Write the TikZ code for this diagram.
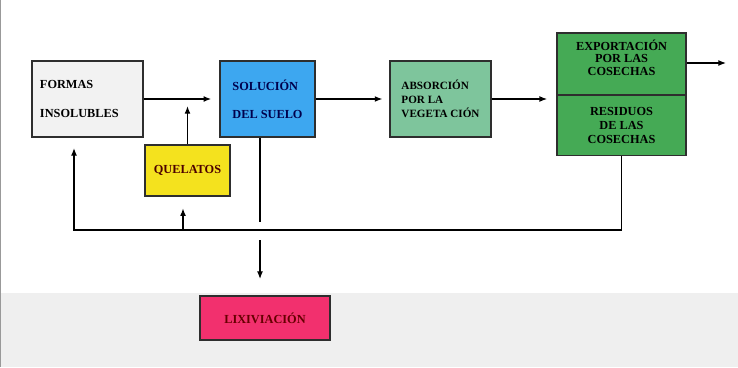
\documentclass[tikz,border=0pt]{standalone}
\usepackage{fontspec}
\setmainfont{Liberation Serif}
\usepackage{xcolor}
\usepackage{tikz}
\usetikzlibrary{arrows,arrows.meta,positioning,calc}

\definecolor{gris}{HTML}{F2F2F2}
\definecolor{fondo}{HTML}{EFEFEF}
\definecolor{amarillo}{HTML}{F4E21E}
\definecolor{azul}{HTML}{3DA7F0}
\definecolor{verdeclaro}{HTML}{7EC59C}
\definecolor{verde}{HTML}{45AA55}
\definecolor{rosa}{HTML}{F2306E}
\definecolor{borde}{HTML}{2E2E2E}

\begin{document}
\begin{tikzpicture}[x=0.03cm,y=-0.03cm,
  letra/.style={font=\fontsize{10.5}{12}\selectfont\bfseries},
  caja/.style={draw=borde, line width=1pt, letra, align=left, inner sep=2pt},
  flecha/.style={-{Latex[length=6.5pt,width=5pt]}, line width=1pt},
  linea/.style={line width=1pt}]

\useasboundingbox (0,0) rectangle (738,367);
\fill[fondo] (0,293) rectangle (738,367);
\draw[black!40, line width=1pt] (0.5,0) -- (0.5,367);

\node[caja, fill=gris, text width=2.85cm, minimum width=3.33cm, minimum height=2.28cm] (formas) at (87.5,99) {FORMAS\\[12pt]INSOLUBLES};
\node[caja, fill=amarillo, minimum width=2.55cm, minimum height=1.53cm, text=black!70!red] (quelatos) at (187.5,170.5) {QUELATOS};
\node[caja, fill=azul, minimum width=2.85cm, minimum height=2.28cm, text=blue!30!black] (solucion) at (267.5,99) {SOLUCIÓN\\[12pt]DEL SUELO};
\node[caja, fill=verdeclaro, font=\fontsize{9.5}{12}\selectfont\bfseries, minimum width=3.03cm, minimum height=2.28cm] (absorcion) at (440.5,99) {ABSORCIÓN\\POR LA\\VEGETA CIÓN};
\node[caja, fill=verde, minimum width=3.87cm, minimum height=1.86cm,
  label={[letra, align=center, yshift=6.5*0.03cm, font=\fontsize{10.5}{10.6}\selectfont\bfseries]center:EXPORTACIÓN\\POR LAS\\COSECHAS}] (exportacion) at (621.5,64) {};
\node[caja, fill=verde, align=center, minimum width=3.87cm, minimum height=1.8cm, below=-0.5pt of exportacion] (residuos) {RESIDUOS\\DE LAS\\COSECHAS};
\node[caja, fill=rosa, minimum width=3.9cm, minimum height=1.32cm, text=red!40!black] (lixiviacion) at (265,318) {LIXIVIACIÓN};

\coordinate (retorno) at (74,230);
\coordinate (fin) at (74,148);
\coordinate (rama) at (183,230);
\coordinate (corte) at (260,222);
\coordinate (sigue) at (260,240);
\coordinate (salida) at (726,63);

\draw[flecha, shorten >=7pt] (formas.east) -- (solucion.west);
\draw[flecha, shorten >=6pt] (quelatos.north) -- (quelatos.north |- formas.east);
\draw[flecha, shorten >=6pt] (solucion.east) -- (absorcion.west);
\draw[flecha, shorten >=8pt] (absorcion.east) -- (absorcion.east -| exportacion.west);
\draw[flecha] (exportacion.east |- salida) -- (salida);

\draw[flecha] (residuos.south) |- (retorno) -- (fin);
\draw[flecha, shorten >=10pt] (rama) -- (rama |- quelatos.south);

\draw[linea] (solucion.south -| corte) -- (corte);
\draw[flecha, shorten >=14pt] (sigue) -- (sigue |- lixiviacion.north);

\end{tikzpicture}
\end{document}
